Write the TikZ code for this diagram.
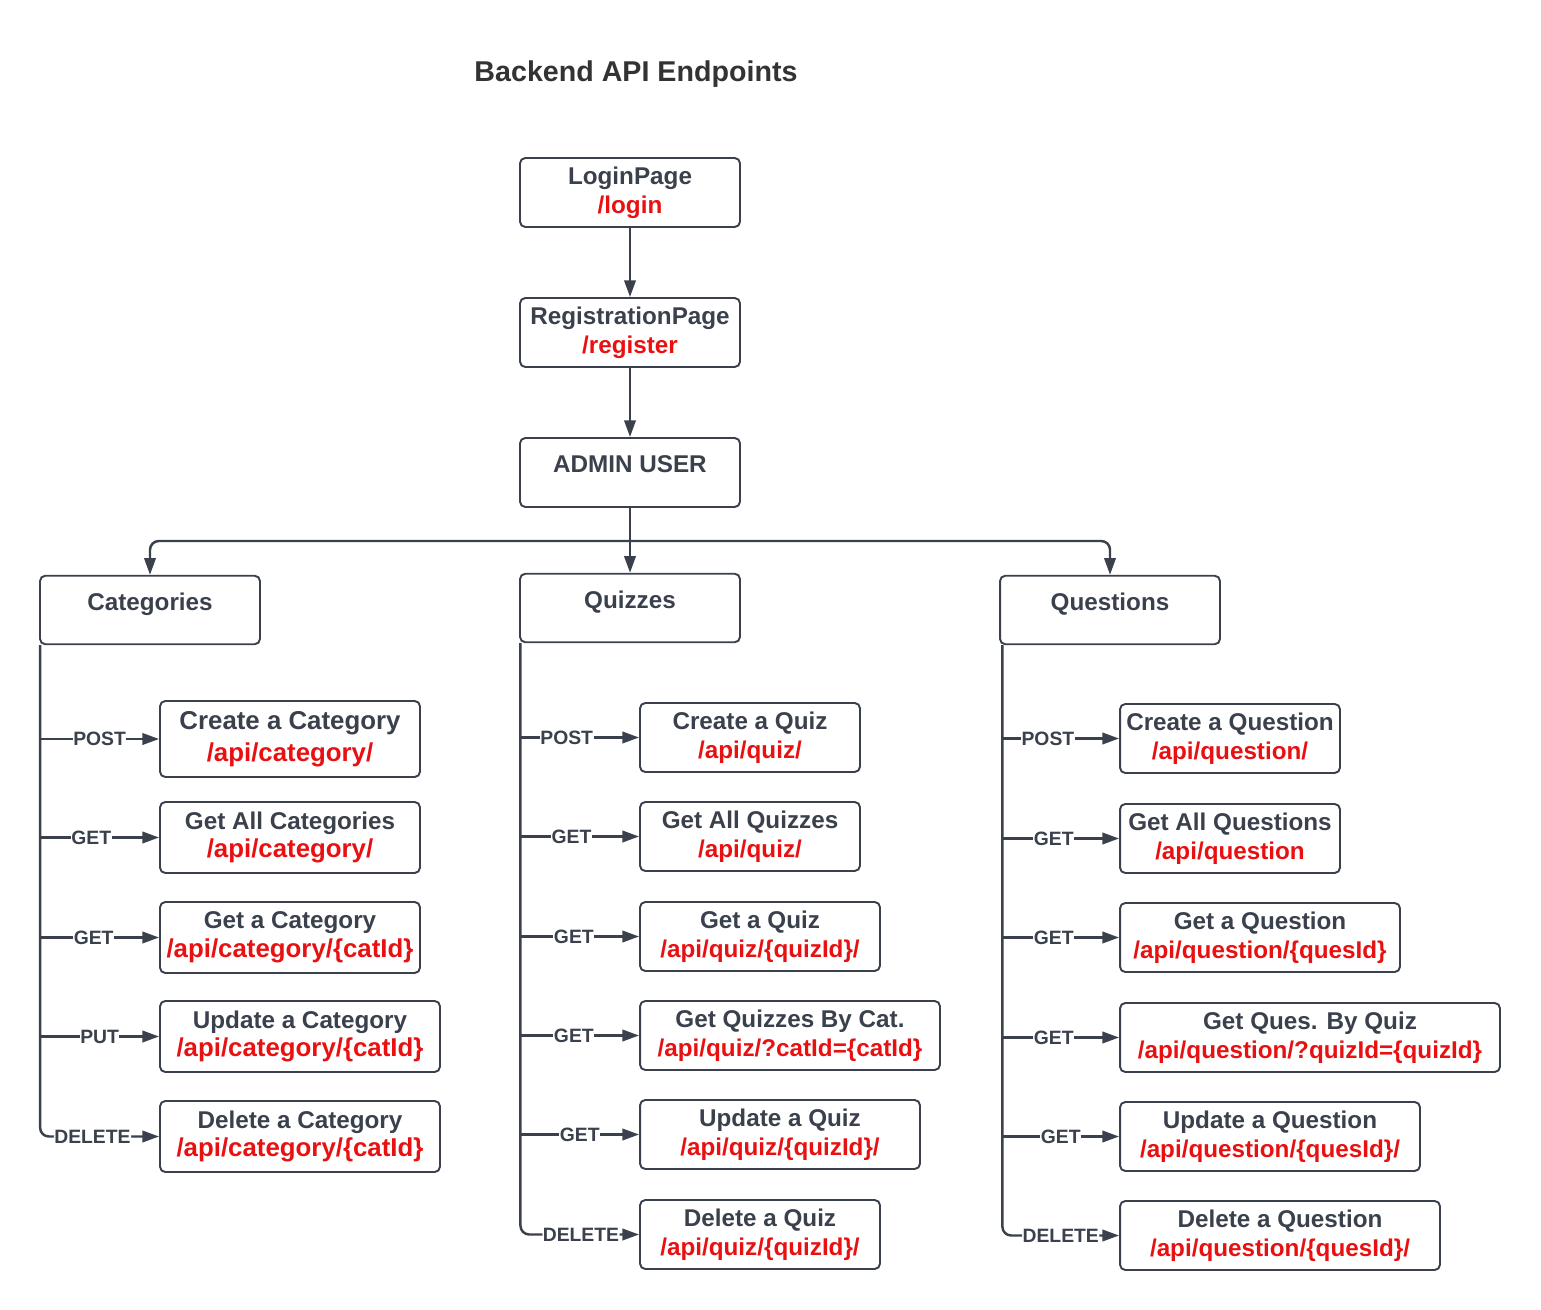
\documentclass[tikz,border=0pt]{standalone}
\usepackage{fontspec}
\setmainfont{Liberation Sans}
\usetikzlibrary{arrows.meta, positioning}
\definecolor{edgegray}{RGB}{58, 65, 76}
\definecolor{titlegray}{RGB}{51, 51, 51}
\definecolor{apired}{RGB}{232, 16, 16}
\newcommand{\apiurl}[1]{\textcolor{apired}{#1}}
\newcommand{\bigfont}{\fontsize{14.7}{18.1}\selectfont}

\tikzset{
  box/.style={draw=edgegray, line width=1.1pt, rounded corners=3pt, inner sep=2pt, align=center, text=edgegray, font=\fontsize{13.8}{16.4}\selectfont\bfseries},
  onebox/.style={box, minimum width=4.4cm, minimum height=1.37cm, text height=10.3pt, text depth=10.3pt},
  conn/.style={draw=edgegray, line width=1.4pt, -{Triangle[length=9.5pt, width=6.5pt]}},
  meth/.style={fill=white, inner sep=0.3pt, text=edgegray, font=\fontsize{11}{13}\selectfont\bfseries},
}

\begin{document}
\begin{tikzpicture}[x=0.02cm, y=-0.02cm]
  \useasboundingbox (0,0) rectangle (1541,1310);

  % Title
  \node[text=titlegray, font=\fontsize{16.3}{19}\selectfont\bfseries] (title) at (636,74) {Backend API Endpoints};

  % Login flow
  \node[box, minimum width=4.4cm, minimum height=1.38cm] (login) at (630,192.5) {LoginPage\\\apiurl{/login}};
  \node[box, minimum width=4.4cm, minimum height=1.38cm] (reg) at (630,332.5) {RegistrationPage\\\apiurl{/register}};
  \node[onebox, minimum height=1.38cm] (admin) at (630,472.5) {ADMIN USER};
  \draw[conn] (login) -- (reg);
  \draw[conn] (reg) -- (admin);

  % Resources
  \node[onebox] (cat) at (150,610) {Categories};
  \node[onebox] (quiz) at (630,608) {Quizzes};
  \node[onebox] (ques) at (1110,610) {Questions};
  \coordinate (split) at (630,541);
  \draw[edgegray, line width=1.4pt] (admin) -- (split);
  \draw[conn, rounded corners=5pt] (split) -| (cat);
  \draw[conn] (split) -- (quiz);
  \draw[conn, rounded corners=5pt] (split) -| (ques);

  % trunk tops
  \coordinate (ctop) at ([xshift=0.6pt]cat.south west);
  \coordinate (qtop) at ([xshift=0.8pt]quiz.south west);
  \coordinate (utop) at ([xshift=1.9pt]ques.south west);

  % Category endpoints
  \node[box, minimum width=5.2cm, minimum height=1.52cm, font=\bigfont\bfseries] (c1) at (290,739) {Create a Category\\\apiurl{/api/category/}};
  \node[box, minimum width=5.2cm, minimum height=1.42cm] (c2) at (290,837.5) {Get All Categories\\{\bigfont\apiurl{/api/category/}}};
  \node[box, minimum width=5.2cm, minimum height=1.42cm] (c3) at (290,937.5) {Get a Category\\{\bigfont\apiurl{/api/category/\{catId\}}}};
  \node[box, minimum width=5.6cm, minimum height=1.42cm] (c4) at (300,1036.5) {Update a Category\\{\bigfont\apiurl{/api/category/\{catId\}}}};
  \node[box, minimum width=5.6cm, minimum height=1.42cm] (c5) at (300,1136.5) {Delete a Category\\{\bigfont\apiurl{/api/category/\{catId\}}}};
  \draw[conn] (ctop |- c1.west) -- node[meth, pos=0.5] {POST} (c1.west);
  \draw[conn] (ctop |- c2.west) -- node[meth, pos=0.43] {GET} (c2.west);
  \draw[conn] (ctop |- c3.west) -- node[meth, pos=0.45] {GET} (c3.west);
  \draw[conn] (ctop |- c4.west) -- node[meth, pos=0.5] {PUT} (c4.west);
  \draw[conn, rounded corners=5pt] (ctop) |- node[meth, pos=0.72] {DELETE} (c5.west);

  % Quiz endpoints
  \node[box, minimum width=4.4cm, minimum height=1.38cm] (q1) at (750,737.5) {Create a Quiz\\\apiurl{/api/quiz/}};
  \node[box, minimum width=4.4cm, minimum height=1.38cm] (q2) at (750,836.5) {Get All Quizzes\\\apiurl{/api/quiz/}};
  \node[box, minimum width=4.8cm, minimum height=1.38cm] (q3) at (760,936.5) {Get a Quiz\\\apiurl{/api/quiz/\{quizId\}/}};
  \node[box, minimum width=6cm, minimum height=1.38cm] (q4) at (790,1035.5) {Get Quizzes By Cat.\\\apiurl{/api/quiz/?catId=\{catId\}}};
  \node[box, minimum width=5.6cm, minimum height=1.38cm] (q5) at (780,1134.5) {Update a Quiz\\\apiurl{/api/quiz/\{quizId\}/}};
  \node[box, minimum width=4.8cm, minimum height=1.38cm] (q6) at (760,1234.5) {Delete a Quiz\\\apiurl{/api/quiz/\{quizId\}/}};
  \draw[conn] (qtop |- q1.west) -- node[meth, pos=0.39] {POST} (q1.west);
  \draw[conn] (qtop |- q2.west) -- node[meth, pos=0.43] {GET} (q2.west);
  \draw[conn] (qtop |- q3.west) -- node[meth, pos=0.45] {GET} (q3.west);
  \draw[conn] (qtop |- q4.west) -- node[meth, pos=0.45] {GET} (q4.west);
  \draw[conn] (qtop |- q5.west) -- node[meth, pos=0.5] {GET} (q5.west);
  \draw[conn, rounded corners=5pt] (qtop) |- node[meth, pos=0.755] {DELETE} (q6.west);

  % Question endpoints
  \node[box, minimum width=4.4cm, minimum height=1.38cm] (u1) at (1230,738.5) {Create a Question\\\apiurl{/api/question/}};
  \node[box, minimum width=4.4cm, minimum height=1.38cm] (u2) at (1230,838.5) {Get All Questions\\\apiurl{/api/question}};
  \node[box, minimum width=5.6cm, minimum height=1.38cm] (u3) at (1260,937.5) {Get a Question\\\apiurl{/api/question/\{quesId\}}};
  \node[box, minimum width=7.6cm, minimum height=1.38cm] (u4) at (1310,1037.5) {Get Ques. By Quiz\\\apiurl{/api/question/?quizId=\{quizId\}}};
  \node[box, minimum width=6cm, minimum height=1.38cm] (u5) at (1270,1136.5) {Update a Question\\\apiurl{/api/question/\{quesId\}/}};
  \node[box, minimum width=6.4cm, minimum height=1.38cm] (u6) at (1280,1235.5) {Delete a Question\\\apiurl{/api/question/\{quesId\}/}};
  \draw[conn] (utop |- u1.west) -- node[meth, pos=0.39] {POST} (u1.west);
  \draw[conn] (utop |- u2.west) -- node[meth, pos=0.44] {GET} (u2.west);
  \draw[conn] (utop |- u3.west) -- node[meth, pos=0.44] {GET} (u3.west);
  \draw[conn] (utop |- u4.west) -- node[meth, pos=0.44] {GET} (u4.west);
  \draw[conn] (utop |- u5.west) -- node[meth, pos=0.5] {GET} (u5.west);
  \draw[conn, rounded corners=5pt] (utop) |- node[meth, pos=0.75] {DELETE} (u6.west);
\end{tikzpicture}
\end{document}
